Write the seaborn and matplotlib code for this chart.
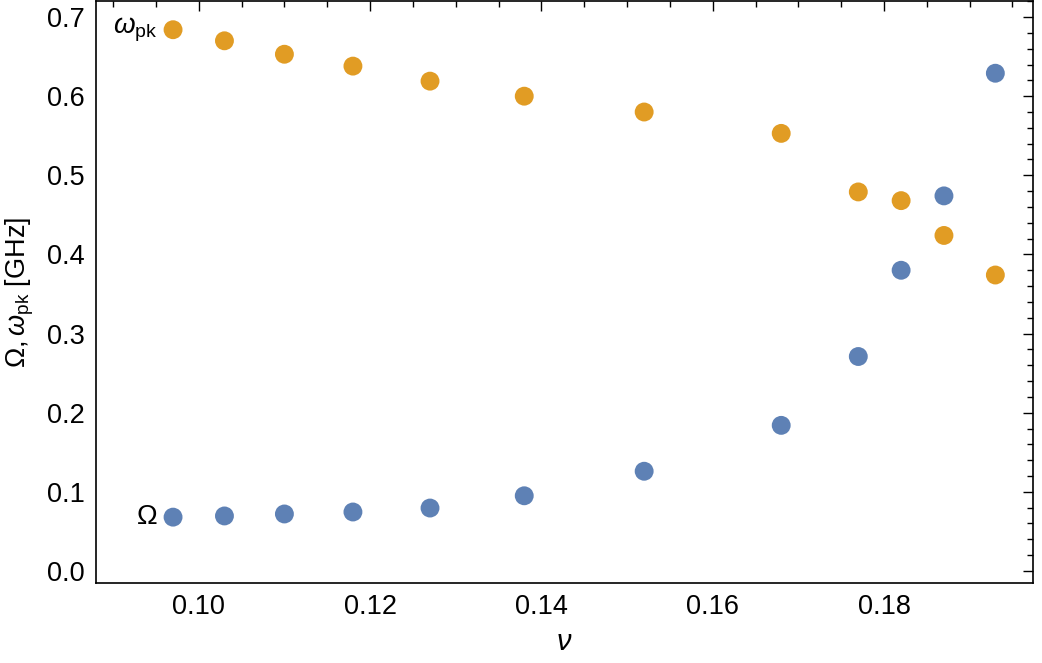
import numpy as np
import pandas as pd
import matplotlib
matplotlib.use("Agg")
import matplotlib.pyplot as plt
from matplotlib.ticker import MultipleLocator, FormatStrFormatter
import seaborn as sns

# ---- data ----
nu = [0.097, 0.103, 0.110, 0.118, 0.127, 0.138, 0.152, 0.168, 0.177, 0.182, 0.187, 0.193]
omega_pk = [0.684, 0.670, 0.653, 0.638, 0.619, 0.600, 0.580, 0.553, 0.479, 0.468, 0.424, 0.374]
Omega = [0.068, 0.0695, 0.072, 0.0745, 0.0795, 0.095, 0.126, 0.184, 0.271, 0.380, 0.474, 0.629]
series_names = ["Omega", "omega_pk"]
colors = {"Omega": "#5E81B5", "omega_pk": "#E19C24"}

df = pd.DataFrame({
    "nu": nu + nu,
    "value": Omega + omega_pk,
    "series": [series_names[0]] * len(nu) + [series_names[1]] * len(nu),
})

sns.set_theme(style="white")
plt.rcParams["font.family"] = ["Liberation Sans", "DejaVu Sans"]
plt.rcParams["mathtext.fontset"] = "custom"
plt.rcParams["mathtext.rm"] = "Liberation Sans"
plt.rcParams["mathtext.it"] = "Liberation Sans:italic"
plt.rcParams["mathtext.bf"] = "Liberation Sans:bold"
for k in ["text.color", "axes.labelcolor", "xtick.color", "ytick.color"]:
    plt.rcParams[k] = "black"

fig = plt.figure(figsize=(10.42, 6.63), dpi=100)
ax = fig.add_axes([0.0921, 0.1207, 0.8993, 0.8778])

sns.scatterplot(data=df, x="nu", y="value", hue="series", palette=colors,
                s=185, linewidth=0, legend=False, ax=ax, zorder=3)

ax.set_xlim(0.088, 0.1974)
ax.set_ylim(-0.0152, 0.7203)

ax.xaxis.set_major_locator(MultipleLocator(0.02))
ax.xaxis.set_minor_locator(MultipleLocator(0.005))
ax.yaxis.set_major_locator(MultipleLocator(0.1))
ax.yaxis.set_minor_locator(MultipleLocator(0.02))
ax.xaxis.set_major_formatter(FormatStrFormatter("%.2f"))
ax.yaxis.set_major_formatter(FormatStrFormatter("%.1f"))

ax.tick_params(which="both", direction="in", top=True, right=True,
               labeltop=False, labelright=False, color="black", width=1.0)
ax.tick_params(which="major", length=7.5, labelsize=19.5, pad=8)
ax.tick_params(which="minor", length=4.5)
for s in ax.spines.values():
    s.set_color("black")
    s.set_linewidth(1.2)

ax.set_xlabel(r"$\nu$", fontsize=21, labelpad=6)
ax.set_ylabel(r"$\Omega,\omega_{\rm pk}$ [GHz]", fontsize=19.5, labelpad=8)

ax.text(0.0952, omega_pk[0], r"$\omega_{\rm pk}$", fontsize=20, ha="right", va="center")
ax.text(0.0952, Omega[0], r"$\Omega$", fontsize=20, ha="right", va="center")

fig.savefig("out.png", dpi=100)
